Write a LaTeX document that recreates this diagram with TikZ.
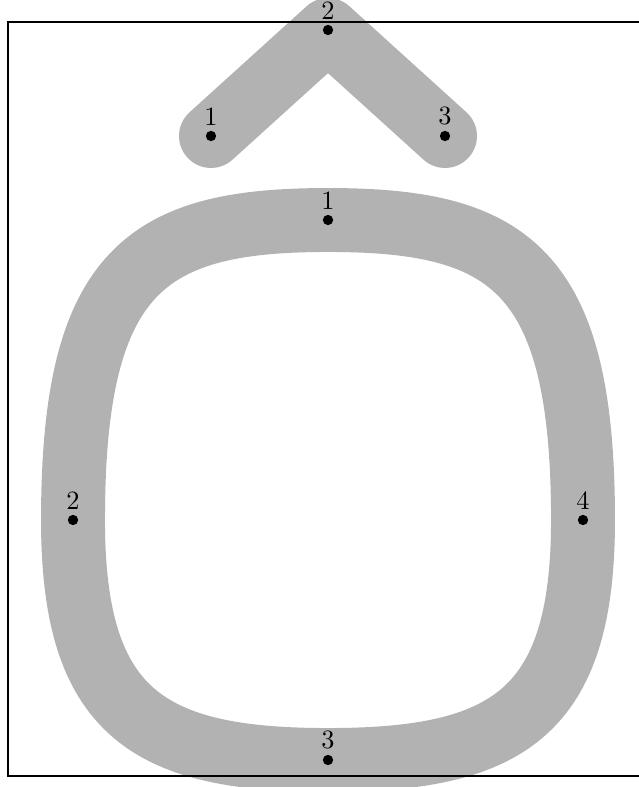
\documentclass[tikz,border=0pt]{standalone}
\usetikzlibrary{positioning}

\begin{document}
\begin{tikzpicture}[
  x=0.0133cm, y=-0.0133cm,
  stroke/.style={line width=24.2pt, gray!60, line cap=round, line join=round},
  dot/.style={circle, fill=black, inner sep=0pt, minimum size=3.9pt},
  num/.style={inner sep=1.8pt, font=\normalsize},
  frame/.style={draw=black, line width=0.6pt}
]
\useasboundingbox (0,0) rectangle (638,787);

% points of the O
\coordinate (o1) at (328,220);
\coordinate (o2) at (73,520);
\coordinate (o3) at (328,760);
\coordinate (o4) at (583,520);
% points of the circumflex
\coordinate (c1) at (211,136);
\coordinate (c2) at (328,30);
\coordinate (c3) at (445,136);

\draw[stroke] (o1) .. controls +(-180,0) and +(0,-252) .. (o2)
  .. controls +(0,193) and +(-180,0) .. (o3)
  .. controls +(180,0) and +(0,193) .. (o4)
  .. controls +(0,-252) and +(180,0) .. (o1) -- cycle;
\draw[stroke] (c1) -- (c2) -- (c3);

\draw[frame] (8,22) rectangle (660,776);

\foreach \p/\t in {o1/1, o2/2, o3/3, o4/4, c1/1, c2/2, c3/3}
  \node[dot, label={[num]above:\t}] (d-\p) at (\p) {};
\end{tikzpicture}
\end{document}
